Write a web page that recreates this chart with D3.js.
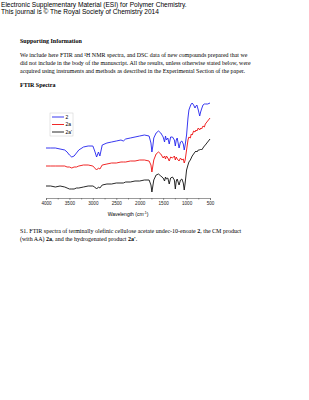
<!DOCTYPE html>
<html>
<head>
<meta charset="utf-8">
<script src="https://cdn.jsdelivr.net/npm/d3@7"></script>
<style>
  body { margin: 0; background: #fff; }
  svg { display: block; }
</style>
</head>
<body>
<div id="page"></div>
<script>
// wavenumbers (cm-1) and transmittance-like values (offset per trace)
const wavenumbers = [4000, 3900, 3800, 3700, 3600, 3550, 3500, 3450, 3400, 3350, 3300, 3200, 3100, 3000, 2960, 2920, 2880, 2850, 2800, 2700, 2600, 2500, 2400, 2350, 2300, 2200, 2100, 2000, 1900, 1800, 1760, 1740, 1720, 1700, 1650, 1600, 1550, 1500, 1470, 1450, 1430, 1400, 1370, 1340, 1300, 1260, 1240, 1220, 1200, 1160, 1130, 1100, 1070, 1050, 1030, 1000, 970, 950, 920, 900, 880, 850, 820, 800, 780, 750, 720, 700, 680, 650, 620, 600, 550, 500];

const s2 = [49, 49, 49, 48, 47, 45, 42, 40, 41, 44, 47, 50, 51, 51, 46, 40, 45, 41, 52, 54, 55, 56, 57, 56, 58, 59, 60, 61, 62, 61, 54, 45, 51, 59, 64, 66, 64, 60, 55, 61, 57, 59, 53, 60, 60, 57, 51, 57, 59, 49, 55, 56, 53, 47, 52, 62, 79, 87, 91, 93, 94, 92, 89, 91, 92, 87, 81, 85, 88, 92, 93, 93, 93, 94];
const s2a = [31, 31, 31, 31, 31, 30, 30, 29, 30, 30, 31, 32, 32, 31, 29, 27, 29, 28, 32, 33, 34, 34, 35, 35, 35, 36, 36, 37, 37, 36, 32, 25, 31, 37, 43, 45, 43, 39, 41, 38, 41, 39, 36, 40, 39, 41, 37, 40, 38, 36, 39, 37, 38, 34, 37, 47, 57, 60, 59, 63, 62, 66, 65, 67, 66, 69, 67, 69, 68, 71, 70, 73, 76, 79];
const s2a2 = [11, 11, 10, 11, 10, 9, 8, 8, 8, 9, 9, 10, 11, 11, 10, 8, 10, 9, 12, 13, 13, 14, 14, 14, 15, 15, 16, 16, 17, 17, 12, 5, 11, 17, 22, 23, 21, 19, 16, 20, 18, 19, 13, 19, 20, 17, 8, 16, 18, 12, 17, 18, 14, 7, 14, 27, 32, 35, 37, 39, 41, 43, 45, 46, 45, 47, 47, 48, 47, 49, 51, 52, 55, 58];

const seriesNames = ["2", "2a", "2a'"];
const seriesColors = ["#2222ee", "#ee1111", "#111111"];
const xTicks = [4000, 3500, 3000, 2500, 2000, 1500, 1000, 500];

const W = 309, H = 400;
const svg = d3.select("#page").append("svg")
  .attr("width", W).attr("height", H);

// page text
const sans = "'Liberation Sans', Arial, sans-serif";
const serif = "'Liberation Serif', 'Times New Roman', serif";

svg.append("text").attr("x", 1).attr("y", 7)
  .style("font-family", sans).style("font-size", "6.6px")
  .text("Electronic Supplementary Material (ESI) for Polymer Chemistry.");
svg.append("text").attr("x", 1).attr("y", 14)
  .style("font-family", sans).style("font-size", "6.6px")
  .text("This journal is \u00A9 The Royal Society of Chemistry 2014");

svg.append("text").attr("x", 20).attr("y", 43)
  .style("font-family", serif).style("font-size", "6px").style("font-weight", "bold")
  .text("Supporting Information");

const para = [
  "We include here FTIR and \u00B9H NMR spectra, and DSC data of new compounds prepared that we",
  "did not include in the body of the manuscript. All the results, unless otherwise stated below, were",
  "acquired using instruments and methods as described in the Experimental Section of the paper."
];
svg.selectAll("text.para").data(para).join("text")
  .attr("class", "para")
  .attr("x", 20).attr("y", (d, i) => 57 + i * 8)
  .style("font-family", serif).style("font-size", "5.95px")
  .text(d => d);

svg.append("text").attr("x", 20).attr("y", 87)
  .style("font-family", serif).style("font-size", "6px").style("font-weight", "bold")
  .text("FTIR Spectra");

// chart
const x = d3.scaleLinear().domain([4000, 500]).range([46, 210]);
const y = d3.scaleLinear().domain([0, 100]).range([197, 97]);

const axis = svg.append("g")
  .attr("transform", "translate(0,198)")
  .call(d3.axisBottom(x).tickValues(xTicks).tickSize(2).tickPadding(2).tickFormat(d3.format("d")));
axis.select(".domain").attr("stroke", "#555").attr("stroke-width", 0.6);
axis.selectAll(".tick line").attr("stroke", "#555").attr("stroke-width", 0.6);
axis.selectAll(".tick text").style("font-family", sans).style("font-size", "4.6px").attr("fill", "#222");

svg.append("g")
  .attr("transform", "translate(0,198)")
  .call(d3.axisBottom(x).tickValues(d3.range(3750, 500, -500)).tickSize(1.5).tickFormat(""))
  .call(g => g.select(".domain").remove())
  .selectAll(".tick line").attr("stroke", "#555").attr("stroke-width", 0.6);

svg.append("text").attr("x", 128).attr("y", 216)
  .attr("text-anchor", "middle")
  .style("font-family", sans).style("font-size", "5px")
  .text("Wavelength (cm")
  .append("tspan").attr("dy", -2).style("font-size", "3.5px").text("-1")
  .select(function () { return this.parentNode; })
  .append("tspan").attr("dy", 2).text(")");

const line = d3.line().x((d, i) => x(wavenumbers[i])).y(d => y(d));
const series = [s2, s2a, s2a2];
svg.selectAll("path.trace").data(series).join("path")
  .attr("class", "trace")
  .attr("d", d => line(d))
  .attr("fill", "none")
  .attr("stroke", (d, i) => seriesColors[i])
  .attr("stroke-width", 0.9)
  .attr("stroke-linejoin", "round");

// legend
const lg = svg.append("g").attr("transform", "translate(50,113)");
lg.append("rect").attr("width", 23).attr("height", 23)
  .attr("fill", "#fff").attr("stroke", "#ccc").attr("stroke-width", 0.5);
seriesNames.forEach((name, i) => {
  lg.append("line").attr("x1", 2).attr("x2", 14)
    .attr("y1", 4 + i * 7.5).attr("y2", 4 + i * 7.5)
    .attr("stroke", seriesColors[i]).attr("stroke-width", 0.9);
  lg.append("text").attr("x", 15.5).attr("y", 5.8 + i * 7.5)
    .style("font-family", sans).style("font-size", "5px")
    .text(name);
});

// caption
const cap = svg.append("g").style("font-family", serif).style("font-size", "6px");
const c1 = cap.append("text").attr("x", 20).attr("y", 233);
c1.append("tspan").text("S1. FTIR spectra of terminally olefinic cellulose acetate undec-10-enoate ");
c1.append("tspan").style("font-weight", "bold").text("2");
c1.append("tspan").text(", the CM product");
const c2 = cap.append("text").attr("x", 20).attr("y", 241);
c2.append("tspan").text("(with AA) ");
c2.append("tspan").style("font-weight", "bold").text("2a");
c2.append("tspan").text(", and the hydrogenated product ");
c2.append("tspan").style("font-weight", "bold").text("2a'");
c2.append("tspan").text(".");
</script>
</body>
</html>
